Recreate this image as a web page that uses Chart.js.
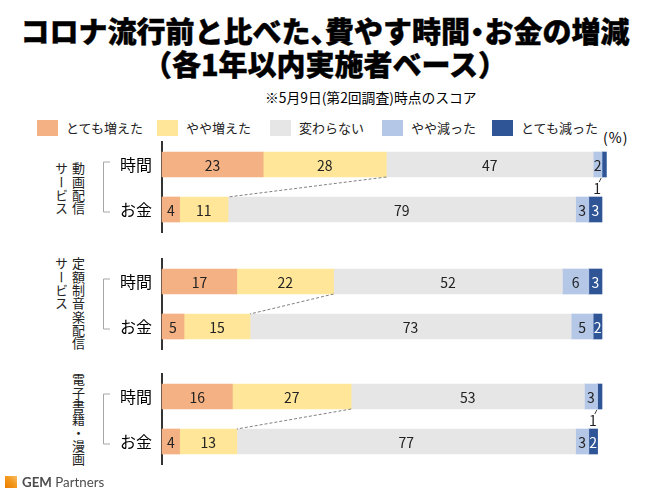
<!DOCTYPE html>
<html lang="ja">
<head>
<meta charset="utf-8">
<script src="https://cdn.jsdelivr.net/npm/chart.js@4.4.0/dist/chart.umd.min.js"></script>
<style>
  body {
    margin: 0;
    width: 650px;
    height: 492px;
    position: relative;
    overflow: hidden;
    background: #fff;
    font-family: "Noto Sans CJK JP", sans-serif;
    color: #000;
  }
  .abs { position: absolute; }
  .title {
    left: 0;
    width: 650px;
    text-align: center;
    font-size: 29px;
    font-weight: 900;
    line-height: 33px;
    top: 14px;
    -webkit-text-stroke: 0.4px #000;
    white-space: nowrap;
  }
  .title .half { font-feature-settings: "halt"; }
  .note { left: 265px; top: 88px; font-size: 13.8px; line-height: 18px; }
  .swatch { width: 21px; height: 16px; top: 120px; }
  .legendText { top: 119px; font-size: 13px; line-height: 18px; color: #222; }
  .pct { left: 603px; top: 128px; font-size: 14px; line-height: 18px; letter-spacing: 1px; }
  .group {
    writing-mode: vertical-rl;
    font-size: 13px;
    line-height: 17px;
    letter-spacing: 0.3px;
    color: #222;
  }
  canvas { position: absolute; left: 0; }
  .logoMark {
    left: 5px; top: 476px; width: 12px; height: 12px;
    background: linear-gradient(45deg, #ec7a00 0%, #f39a1e 55%, #f8be6a 100%);
  }
  .logoText { left: 22px; top: 473px; font-family: Lato, sans-serif; font-size: 13.3px; color: #4d4d4d; line-height: 18px; }
</style>
</head>
<body>
<div class="abs title">コロナ流行前と比べた<span class="half">、</span>費やす時間<span class="half">・</span>お金の増減<br>（各1年以内実施者ベース）</div>
<div class="abs note">※5月9日(第2回調査)時点のスコア</div>
<div id="legend"></div>
<div class="abs pct">(%)</div>
<div id="groups"></div>
<canvas id="chart0" width="650" height="110"></canvas>
<canvas id="chart1" width="650" height="110"></canvas>
<canvas id="chart2" width="650" height="110"></canvas>
<div class="abs logoMark"></div>
<div class="abs logoText"><b>GEM</b> Partners</div>

<script>
// data (rows: 時間, お金 per group)
const groupNames = [['動画配信', 'サービス'], ['定額制音楽配信', 'サービス'], ['電子書籍・漫画']];
const rowLabels = ['時間', 'お金'];
const seriesLabels = ['とても増えた', 'やや増えた', '変わらない', 'やや減った', 'とても減った'];
const muchMore = [23, 4, 17, 5, 16, 4];
const slightlyMore = [28, 11, 22, 15, 27, 13];
const noChange = [47, 79, 52, 73, 53, 77];
const slightlyLess = [2, 3, 6, 5, 3, 3];
const muchLess = [1, 3, 3, 2, 1, 2];

const seriesValues = [muchMore, slightlyMore, noChange, slightlyLess, muchLess];
const seriesColors = ['#F4B183', '#FFE699', '#E7E6E6', '#B4C7E7', '#2F5597'];

// layout
const axisTops = [142, 259, 374];
const groupLabelTops = [162, 257, 373];
const legendLefts = [37, 157, 270, 382, 492];
const fontFamily = '"Noto Sans CJK JP", sans-serif';

// legend
const legendEl = document.getElementById('legend');
seriesLabels.forEach((label, s) => {
    const sw = document.createElement('div');
    sw.className = 'abs swatch';
    sw.style.left = legendLefts[s] + 'px';
    sw.style.background = seriesColors[s];
    legendEl.appendChild(sw);

    const txt = document.createElement('div');
    txt.className = 'abs legendText';
    txt.style.left = (legendLefts[s] + 29) + 'px';
    txt.textContent = label;
    legendEl.appendChild(txt);
});

// vertical group names
const groupsEl = document.getElementById('groups');
groupNames.forEach((lines, g) => {
    const el = document.createElement('div');
    el.className = 'abs group';
    el.style.top = groupLabelTops[g] + 'px';
    el.style.left = (87 - lines.length * 17) + 'px';
    el.innerHTML = lines.join('<br>');
    groupsEl.appendChild(el);
});

// labels, dashed connector and bracket
const overlayPlugin = {
    id: 'overlay',
    afterDatasetsDraw(chart) {
        const ctx = chart.ctx;
        ctx.save();

        //dashed line between the two "やや増えた" ends
        const yellow = chart.getDatasetMeta(1).data;
        ctx.strokeStyle = '#808080';
        ctx.lineWidth = 1;
        ctx.setLineDash([3, 2]);
        ctx.beginPath();
        ctx.moveTo(yellow[0].x, yellow[0].y + yellow[0].height / 2);
        ctx.lineTo(yellow[1].x, yellow[1].y - yellow[1].height / 2);
        ctx.stroke();
        ctx.setLineDash([]);

        //value labels
        ctx.font = '14px ' + fontFamily;
        ctx.textAlign = 'center';
        ctx.textBaseline = 'middle';
        chart.data.datasets.forEach((ds, s) => {
            chart.getDatasetMeta(s).data.forEach((bar, i) => {
                const v = ds.data[i];
                const cx = (bar.x + bar.base) / 2;
                const bottom = bar.y + bar.height / 2;
                if (v <= 1) {
                    ctx.strokeStyle = '#404040';
                    ctx.beginPath();
                    ctx.moveTo(cx - 3, bottom + 1);
                    ctx.lineTo(cx - 5, bottom + 5);
                    ctx.stroke();
                    ctx.fillStyle = '#222';
                    ctx.fillText(v, cx - 7, bottom + 12);
                } else {
                    ctx.fillStyle = s === 4 ? '#ffffff' : '#222';
                    ctx.fillText(v, cx, bar.y + 1);
                }
            });
        });

        //bracket in front of 時間 / お金
        const y0 = chart.scales.y.getPixelForValue(0) - 3;
        const y1 = chart.scales.y.getPixelForValue(1) + 2;
        ctx.strokeStyle = '#a6a6a6';
        ctx.lineWidth = 1;
        ctx.beginPath();
        ctx.moveTo(110, y0 + 0.5);
        ctx.lineTo(103.5, y0 + 0.5);
        ctx.lineTo(103.5, y1 + 0.5);
        ctx.lineTo(110, y1 + 0.5);
        ctx.stroke();

        ctx.restore();
    }
};

const buildChart = (g) => {
    const canvas = document.getElementById('chart' + g);
    canvas.style.top = (axisTops[g] - 10) + 'px';

    new Chart(canvas.getContext('2d'), {
        type: 'bar',
        data: {
            labels: rowLabels,
            datasets: seriesValues.map((values, s) => ({
                label: seriesLabels[s],
                data: values.slice(g * 2, g * 2 + 2),
                backgroundColor: seriesColors[s],
                borderWidth: 0,
                barThickness: 25,
                clip: false
            }))
        },
        options: {
            indexAxis: 'y',
            responsive: false,
            animation: false,
            layout: { padding: { left: 0, right: 48, top: 10, bottom: 10 } },
            plugins: {
                legend: { display: false },
                tooltip: { enabled: false }
            },
            scales: {
                x: { stacked: true, min: 0, max: 100, display: false },
                y: {
                    stacked: true,
                    z: 1,
                    grid: { display: false, drawTicks: false },
                    border: { display: true, color: '#333333', width: 2 },
                    ticks: { color: '#000', padding: 10, font: { size: 16, family: fontFamily } },
                    afterFit: (scale) => {
                        scale.width = 162;
                        scale.paddingTop = 0;
                        scale.paddingBottom = 0;
                    }
                }
            }
        },
        plugins: [overlayPlugin]
    });
};

for (let g = 0; g < groupNames.length; g++) {
    buildChart(g);
}
</script>
</body>
</html>
